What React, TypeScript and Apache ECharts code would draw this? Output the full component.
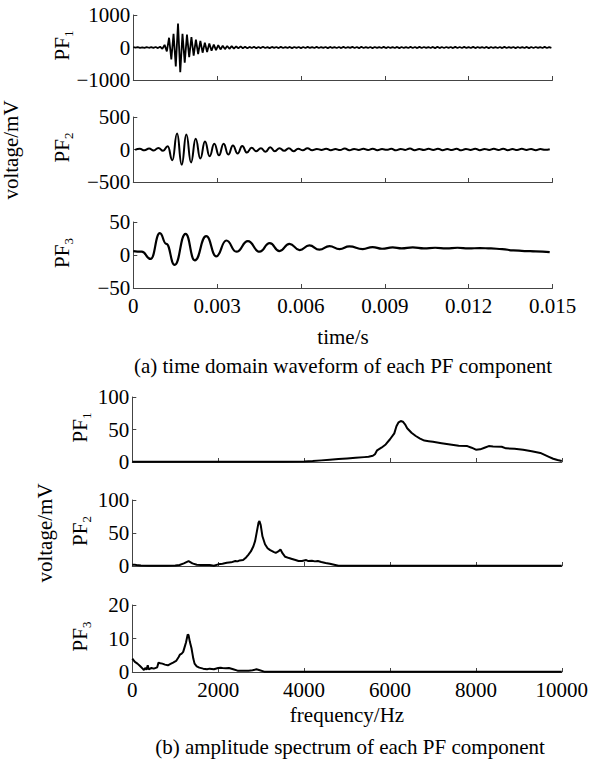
import React, { useEffect, useRef } from 'react';
import * as echarts from 'echarts';

// ---------- (a) time-domain waveforms ----------
const TIME_MAX = 0.015;
const TIME_STEP = 0.003;

// PF1: values at uniform steps (half period of the ~6 kHz oscillation)
const PF1_T0 = 0;
const PF1_DT = 0.00008;
const pf1Wave = [
  8, -6, 10, -8, 6, -10, 12, -8, 10, -12, 15, -18, 22,
  -40, 80, -120, 300, -370, 420, -580, 740, -760, 420, -470, 400, -300, 320, -250, 240, -200,
  200, -160, 150, -140, 120, -100, 90, -80, 70, -60, 55, -50, 45, -40, 40,
  -35, 32, -25, 35, -22, 20, -25, 18, -15, 22,
  -20, 15, -18, 22, -15, 12, -20, 18, -12, 15,
  -18, 20, -15, 12, -14, 18, -20, 15, -12, 16,
  -18, 14, -16, 20, -14, 12, -15, 18, -16, 14,
  -12, 16, -20, 18, -14, 12, -16, 15, -18, 20,
  -15, 14, -12, 18, -16, 15, -20, 22, -15, 12,
  -14, 16, -18, 15, -12, 14, -16, 20, -18, 15,
  -14, 12, -15, 18, -20, 16, -14, 12, -16, 18,
  -15, 14, -18, 20, -16, 15, -12, 14, -15, 18,
  -20, 22, -18, 15, -14, 16, -12, 15, -18, 20,
  -16, 14, -15, 18, -14, 12, -16, 20, -18, 15,
  -12, 14, -16, 18, -20, 15, -14, 12, -15, 16,
  -18, 20, -15, 14, -12, 16, -18, 15, -14, 12,
  -16, 18, -20, 16, -14, 15, -12, 14, -16, 18,
  -15, 12, -10,
];

// PF2: extrema at half-period steps of the ~3 kHz oscillation
const PF2_T0 = 0.000065;
const PF2_DT = 0.0001667;
const pf2Wave = [
  -5, 10, -12, 15, -15, 25, -20, 50,
  -165, 245, -232, 230, -200, 165, -139, 125, -103, 90, -88, 90, -78, 62, -62, 52, -47, 26, -26, 21,
  -36, 36, -26, 21, -21, 21, -26, 11, -11, 21,
  -10, 8, -6, 12, -10, 6, -8, 15, -12, 8,
  -6, 10, -8, 12, -10, 6, -5, 10, -12, 8,
  -6, 14, -10, 8, -8, 10, -6, 12, -10, 6,
  -8, 10, -12, 8, -6, 12, -10, 8, -6, 10,
  -8, 12, -10, 6, -8, 10, -6, 8, -10, 6,
  -5, 4,
];

// PF3: read extrema times and values
const pf3Time = [
  0, 0.0003, 0.00062, 0.00095, 0.00118, 0.00148, 0.00187, 0.0022, 0.00261, 0.00297,
  0.00333, 0.00369, 0.0041, 0.00452, 0.00488, 0.00523, 0.00559, 0.00595, 0.0063, 0.00666,
  0.00702, 0.00738, 0.00773, 0.00821, 0.00856, 0.0089, 0.00928, 0.0096, 0.01, 0.0104,
  0.0108, 0.0112, 0.0116, 0.012, 0.0124, 0.0128, 0.0132, 0.0136, 0.014, 0.0144, 0.0149,
];
const pf3Wave = [
  6, 5, -6, 33, 17, -15, 32, -8, 28.5, -2,
  22, 5, 21, 5, 18, 6, 17, 7.5, 14.5, 8,
  13.5, 9, 13, 9, 12, 9.5, 11.5, 10, 11.5, 10,
  11, 10, 11, 10, 10.5, 10, 9, 7, 6, 5.5, 4.5,
];

// ---------- (b) amplitude spectra ----------
const FREQ_MAX = 10000;
const FREQ_STEP = 2000;

const spec1Freq = [
  0, 500, 1000, 1500, 2000, 2500, 3000, 3500, 4000, 4200, 4400, 4600, 4800, 5000, 5200, 5400,
  5500, 5600, 5650, 5700, 5800, 5900, 6000, 6100, 6150, 6200, 6250, 6300, 6350, 6400, 6500,
  6600, 6700, 6800, 6900, 7000, 7200, 7400, 7600, 7800, 7900, 8000, 8100, 8200, 8300, 8400,
  8600, 8700, 8900, 9100, 9300, 9500, 9600, 9700, 9800, 9900, 10000,
];
const spec1Amp = [
  0.3, 0.3, 0.3, 0.3, 0.3, 0.3, 0.3, 0.3, 0.6, 1.5, 2.5, 3.5, 4.5, 5.5, 6.5, 7.5,
  8, 9.5, 12, 18, 22, 27, 35, 44, 55, 61, 63, 62, 58, 52, 45,
  40, 36, 33, 32, 31, 29, 27, 25, 24.5, 22, 19, 19.5, 22, 24.5, 24,
  23.5, 21, 20.5, 19, 16.5, 14, 11, 8, 5, 3, 1.5,
];

const spec2Freq = [
  0, 50, 100, 200, 400, 600, 800, 1000, 1100, 1200, 1310, 1400, 1500, 1600, 1800, 1900,
  2000, 2100, 2200, 2300, 2400, 2450, 2500, 2580, 2650, 2700, 2760, 2820, 2860, 2900, 2940,
  2960, 2990, 3030, 3090, 3150, 3210, 3300, 3340, 3400, 3450, 3500, 3560, 3650, 3700, 3800,
  3870, 3950, 4050, 4100, 4180, 4250, 4320, 4400, 4500, 4600, 4700, 4800, 5000, 10000,
];
const spec2Amp = [
  2, 2, 1.5, 0.6, 0.5, 0.5, 0.5, 0.6, 1.5, 4, 7.5, 4, 2, 1.5, 1.5, 0.5,
  2.5, 3.5, 5, 5.5, 7.5, 7, 8.5, 9, 13, 17, 22, 30, 38, 52, 66,
  68, 62, 45, 33, 27, 24, 21, 20, 22, 25, 19, 14, 12, 11, 9,
  7.5, 7.5, 9, 7.5, 8, 7, 7.5, 6, 4.5, 3.5, 2, 0.5, 0.3, 0.3,
];

const spec3Freq = [
  0, 60, 120, 180, 240, 270, 300, 330, 360, 380, 445, 500, 580, 610, 650, 700, 760, 830,
  890, 950, 1020, 1080, 1110, 1150, 1185, 1220, 1250, 1290, 1310, 1340, 1380, 1420, 1450,
  1500, 1560, 1650, 1740, 1800, 1900, 2000, 2050, 2100, 2180, 2250, 2350, 2450, 2600, 2710,
  2800, 2890, 2950, 3070, 3200, 10000,
];
const spec3Amp = [
  4, 3, 2.5, 1.8, 1, 0.6, 1.2, 0.7, 2, 0.8, 1.2, 1, 1.4, 2.8, 2.6, 2.5, 2.2, 2,
  2.4, 2.8, 3.3, 4.5, 5.2, 5.5, 6, 7.5, 8.8, 11.2, 11, 9, 7, 4, 2.5,
  1.7, 1.3, 1, 0.8, 1, 0.8, 1.2, 1.3, 1.2, 1.1, 1.2, 0.8, 0.4, 0.4, 0.4,
  0.5, 0.8, 0.6, 0.1, 0.05, 0.05,
];

const FONT = '"Liberation Serif", "Times New Roman", serif';
const FS = 21;
const AXIS_COLOR = '#444';

const gridsA = [
  { top: 15, height: 65 },
  { top: 117, height: 65 },
  { top: 222, height: 66 },
];
const gridsB = [
  { top: 397, height: 65 },
  { top: 500, height: 66 },
  { top: 605, height: 67 },
];

const minusFmt = (v: number) => String(v).replace('-', '\u2212');

function mkX(gi: number, max: number, interval: number, showLabel: boolean, fmt: (v: number) => string) {
  return {
    gridIndex: gi,
    type: 'value',
    min: 0,
    max,
    interval,
    axisLine: { show: true, onZero: false, lineStyle: { color: AXIS_COLOR, width: 1 } },
    axisTick: { show: true, inside: true, length: 4, lineStyle: { color: AXIS_COLOR, width: 1 } },
    axisLabel: { show: showLabel, color: '#000', fontFamily: FONT, fontSize: FS, margin: 7, formatter: fmt },
    splitLine: { show: false },
  };
}
function mkY(gi: number, min: number, max: number, interval: number) {
  return {
    gridIndex: gi,
    type: 'value',
    min,
    max,
    interval,
    axisLine: { show: true, onZero: false, lineStyle: { color: AXIS_COLOR, width: 1 } },
    axisTick: { show: true, inside: true, length: 4, lineStyle: { color: AXIS_COLOR, width: 1 } },
    axisLabel: { color: '#000', fontFamily: FONT, fontSize: FS, margin: 3, formatter: minusFmt },
    splitLine: { show: false },
  };
}

const timeFmt = (v: number) => String(+v.toFixed(3));
const freqFmt = (v: number) => String(Math.round(v));

function lineSeries(xi: number, data: number[][], smooth: boolean, width = 2) {
  return {
    type: 'line',
    xAxisIndex: xi,
    yAxisIndex: xi,
    data,
    showSymbol: false,
    symbol: 'none',
    smooth,
    smoothMonotone: 'x',
    lineStyle: { color: '#000', width },
    silent: true,
  };
}

function pfLabel(cx: number, cy: number, sub: string) {
  return {
    type: 'group',
    x: cx,
    y: cy,
    rotation: Math.PI / 2,
    children: [
      { type: 'text', x: -15, y: 0, style: { text: 'PF', fontSize: FS, fontFamily: FONT, fill: '#000', align: 'left', verticalAlign: 'middle' } },
      { type: 'text', x: 8.5, y: 6, style: { text: sub, fontSize: 13, fontFamily: FONT, fill: '#000', align: 'left', verticalAlign: 'middle' } },
    ],
  };
}
function plainText(x: number, y: number, text: string, rotation = 0) {
  return {
    type: 'text',
    x,
    y,
    rotation,
    style: { text, fontSize: FS, fontFamily: FONT, fill: '#000', align: 'center', verticalAlign: 'middle' },
  };
}

function buildOption() {
  const grid = [
    ...gridsA.map((g) => ({ left: 133.3, width: 419.2, top: g.top, height: g.height })),
    ...gridsB.map((g) => ({ left: 132.3, width: 429.5, top: g.top, height: g.height })),
  ];
  const xAxis = [
    mkX(0, TIME_MAX, TIME_STEP, false, timeFmt),
    mkX(1, TIME_MAX, TIME_STEP, false, timeFmt),
    mkX(2, TIME_MAX, TIME_STEP, true, timeFmt),
    mkX(3, FREQ_MAX, FREQ_STEP, false, freqFmt),
    mkX(4, FREQ_MAX, FREQ_STEP, false, freqFmt),
    mkX(5, FREQ_MAX, FREQ_STEP, true, freqFmt),
  ];
  const yAxis = [
    mkY(0, -1000, 1000, 1000),
    mkY(1, -500, 500, 500),
    mkY(2, -50, 50, 50),
    mkY(3, 0, 100, 50),
    mkY(4, 0, 100, 50),
    mkY(5, 0, 20, 10),
  ];
  const series = [
    lineSeries(0, pf1Wave.map((v, i) => [PF1_T0 + i * PF1_DT, v]), false, 1.8),
    lineSeries(1, pf2Wave.map((v, i) => [PF2_T0 + i * PF2_DT, v]), true, 2),
    lineSeries(2, pf3Wave.map((v, i) => [pf3Time[i], v]), true, 2.2),
    lineSeries(3, spec1Amp.map((v, i) => [spec1Freq[i], v]), false, 2),
    lineSeries(4, spec2Amp.map((v, i) => [spec2Freq[i], v]), false, 2),
    lineSeries(5, spec3Amp.map((v, i) => [spec3Freq[i], v]), false, 2),
  ];
  const graphic = [
    pfLabel(62, 45.5, '1'),
    pfLabel(62, 147.5, '2'),
    pfLabel(62, 253, '3'),
    pfLabel(80, 427.5, '1'),
    pfLabel(80, 531, '2'),
    pfLabel(80, 636.5, '3'),
    plainText(11, 150, 'voltage/mV', Math.PI / 2),
    plainText(45, 533, 'voltage/mV', Math.PI / 2),
    plainText(343, 337, 'time/s'),
    plainText(343, 366, '(a) time domain waveform of each PF component'),
    plainText(347, 715, 'frequency/Hz'),
    plainText(350, 747, '(b) amplitude spectrum of each PF component'),
  ];
  return {
    animation: false,
    backgroundColor: '#fff',
    grid,
    xAxis,
    yAxis,
    series,
    graphic,
  };
}

export default function App() {
  const ref = useRef<HTMLDivElement>(null);
  useEffect(() => {
    document.body.style.margin = '0';
    const chart = echarts.init(ref.current!, null, { renderer: 'svg' });
    chart.setOption(buildOption() as any);
    return () => chart.dispose();
  }, []);
  return <div ref={ref} style={{ width: 600, height: 761, background: '#fff' }} />;
}
